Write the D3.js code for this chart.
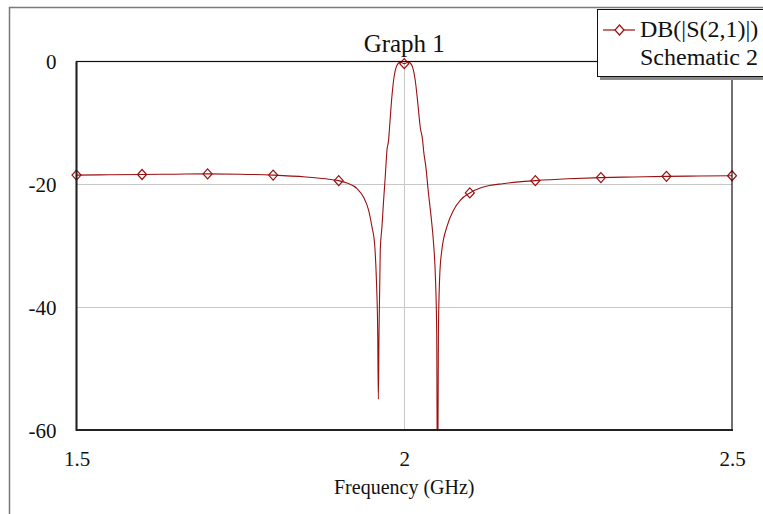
<!DOCTYPE html>
<html>
<head>
<meta charset="utf-8">
<script src="https://cdn.jsdelivr.net/npm/d3@7/dist/d3.min.js"></script>
<style>
  html, body { margin: 0; padding: 0; background: #fff; }
  svg { display: block; }
  text { font-family: "Liberation Serif", "Times New Roman", serif; fill: #111; }
</style>
</head>
<body>
<svg id="chart" width="763" height="514"></svg>
<script>
// Swept S21 magnitude of the band-pass filter, Schematic 2
const freqGHz = [
  1.50, 1.55, 1.60, 1.65, 1.70, 1.75, 1.80, 1.85, 1.88, 1.90,
  1.9126, 1.928, 1.938, 1.9456, 1.9507, 1.9547, 1.9575, 1.9595, 1.9605, 1.9615,
  1.9634, 1.966, 1.9685, 1.971, 1.9736, 1.9761, 1.9776, 1.9802, 1.9837, 1.9888,
  1.9939, 2.00, 2.0065, 2.0117, 2.0168, 2.0208, 2.0244, 2.028, 2.0295, 2.033,
  2.037, 2.041, 2.0447, 2.0475, 2.0495, 2.0508, 2.0521, 2.0545, 2.0574, 2.0651,
  2.0752, 2.0854, 2.10, 2.116, 2.13, 2.15, 2.175, 2.20, 2.25, 2.30,
  2.35, 2.40, 2.45, 2.50
];
const s21dB = [
  -18.5, -18.45, -18.4, -18.35, -18.3, -18.35, -18.5, -18.8, -19.1, -19.4,
  -19.8, -20.7, -22.1, -24.2, -26.9, -29.6, -35.5, -44.0, -55.0, -44.0,
  -30.7, -26.9, -22.6, -18.8, -14.5, -12.8, -10.7, -6.9, -3.1, -0.65,
  -0.1, -0.35, -0.1, -0.65, -3.1, -6.9, -10.7, -12.8, -14.5, -17.2,
  -21.5, -25.3, -29.6, -35.0, -44.0, -75.0, -44.0, -34.0, -30.7, -26.9,
  -24.2, -22.6, -21.4, -20.6, -20.2, -19.9, -19.6, -19.4, -19.1, -18.9,
  -18.8, -18.7, -18.65, -18.6
];
// Marker positions along the trace
const markerFreqs = [1.5, 1.6, 1.7, 1.8, 1.9, 2.0, 2.1, 2.2, 2.3, 2.4, 2.5];

const xTicks = [1.5, 2, 2.5];
const xTickLabels = ["1.5", "2", "2.5"];
const yTicks = [0, -20, -40, -60];
const yTickLabels = ["0", "-20", "-40", "-60"];

const titleText = "Graph 1";
const xTitle = "Frequency (GHz)";
const legendName = "DB(|S(2,1)|)";
const legendSource = "Schematic 2";

const traceColor = "#9a0f0f";

const svg = d3.select("#chart");
const plot = { left: 76.5, top: 61.5, right: 732, bottom: 430 };

const x = d3.scaleLinear().domain([1.5, 2.5]).range([plot.left, plot.right]);
const y = d3.scaleLinear().domain([-60, 0]).range([plot.bottom, plot.top]);

// outer window frame
svg.append("line").attr("x1", 9.5).attr("x2", 9.5).attr("y1", 7).attr("y2", 514)
  .attr("stroke", "#7a7a7a").attr("stroke-width", 1.5);
svg.append("line").attr("x1", 9).attr("x2", 763).attr("y1", 7.5).attr("y2", 7.5)
  .attr("stroke", "#7a7a7a").attr("stroke-width", 1.5);

// grid
const grid = svg.append("g");
grid.selectAll("line.gx").data(xTicks.filter(d => d > 1.5 && d < 2.5)).join("line")
  .attr("x1", d => Math.round(x(d)) + 0.5).attr("x2", d => Math.round(x(d)) + 0.5)
  .attr("y1", plot.top).attr("y2", plot.bottom)
  .attr("stroke", "#c8c8c8").attr("stroke-width", 1);
grid.selectAll("line.gy").data(yTicks.filter(d => d < 0 && d > -60)).join("line")
  .attr("x1", plot.left).attr("x2", plot.right)
  .attr("y1", d => Math.round(y(d)) + 0.5).attr("y2", d => Math.round(y(d)) + 0.5)
  .attr("stroke", "#c8c8c8").attr("stroke-width", 1);

// trace
svg.append("clipPath").attr("id", "plotClip").append("rect")
  .attr("x", plot.left).attr("y", plot.top - 2)
  .attr("width", plot.right - plot.left).attr("height", plot.bottom - plot.top + 2);

const pts = freqGHz.map((f, i) => ({ f, v: s21dB[i] }));
const line = d3.line().x(d => x(d.f)).y(d => y(d.v)).curve(d3.curveMonotoneX);
svg.append("path").datum(pts)
  .attr("clip-path", "url(#plotClip)")
  .attr("d", line).attr("fill", "none")
  .attr("stroke", traceColor).attr("stroke-width", 1.1);

// hollow diamond markers
const diamond = (cx, cy) => `M${cx},${cy - 5}L${cx + 4.5},${cy}L${cx},${cy + 5}L${cx - 4.5},${cy}Z`;
const markers = pts.filter(p => markerFreqs.some(m => Math.abs(m - p.f) < 1e-9));
svg.append("g").selectAll("path").data(markers).join("path")
  .attr("d", d => diamond(x(d.f), y(d.v)))
  .attr("fill", "none").attr("stroke", traceColor).attr("stroke-width", 1.2);

// plot frame (heavier on left and bottom)
svg.append("rect").attr("x", plot.left).attr("y", plot.top)
  .attr("width", plot.right - plot.left).attr("height", plot.bottom - plot.top)
  .attr("fill", "none").attr("stroke", "#111").attr("stroke-width", 1.2);
svg.append("line").attr("x1", plot.left).attr("x2", plot.left)
  .attr("y1", plot.top).attr("y2", plot.bottom + 1)
  .attr("stroke", "#222").attr("stroke-width", 2);
svg.append("line").attr("x1", plot.left).attr("x2", plot.right + 1)
  .attr("y1", plot.bottom).attr("y2", plot.bottom)
  .attr("stroke", "#222").attr("stroke-width", 2);

// axes (labels only)
const yAxis = d3.axisLeft(y).tickValues(yTicks)
  .tickFormat((d, i) => yTickLabels[i]).tickSize(0).tickPadding(20);
const gy = svg.append("g").attr("transform", `translate(${plot.left},0)`).call(yAxis);
gy.select(".domain").remove();
gy.selectAll("text").attr("font-size", 21).attr("font-family", "Liberation Serif")
  .attr("fill", "#111").attr("dy", "0.34em");

const xAxis = d3.axisBottom(x).tickValues(xTicks)
  .tickFormat((d, i) => xTickLabels[i]).tickSize(0).tickPadding(27);
const gx = svg.append("g").attr("transform", `translate(0,${plot.bottom})`).call(xAxis);
gx.select(".domain").remove();
gx.selectAll("text").attr("font-size", 21).attr("font-family", "Liberation Serif")
  .attr("fill", "#111").attr("dy", "0.45em");

// titles
svg.append("text").attr("x", x(2)).attr("y", 52).attr("text-anchor", "middle")
  .attr("font-size", 25).text(titleText);
svg.append("text").attr("x", x(2)).attr("y", 494).attr("text-anchor", "middle")
  .attr("font-size", 20).attr("fill", "#222").text(xTitle);

// legend
const lg = svg.append("g");
lg.append("rect").attr("x", 600).attr("y", 12).attr("width", 200).attr("height", 68)
  .attr("fill", "#8a8a8a");
lg.append("rect").attr("x", 597.5).attr("y", 9.5).attr("width", 200).attr("height", 67)
  .attr("fill", "#fff").attr("stroke", "#111").attr("stroke-width", 1);
lg.append("line").attr("x1", 603).attr("x2", 635).attr("y1", 30).attr("y2", 30)
  .attr("stroke", traceColor).attr("stroke-width", 1.2);
lg.append("path").attr("d", diamond(619.5, 30)).attr("fill", "#fff")
  .attr("stroke", traceColor).attr("stroke-width", 1.2);
lg.append("text").attr("x", 640).attr("y", 37).attr("font-size", 24).text(legendName);
lg.append("text").attr("x", 640).attr("y", 65).attr("font-size", 24).text(legendSource);
</script>
</body>
</html>
